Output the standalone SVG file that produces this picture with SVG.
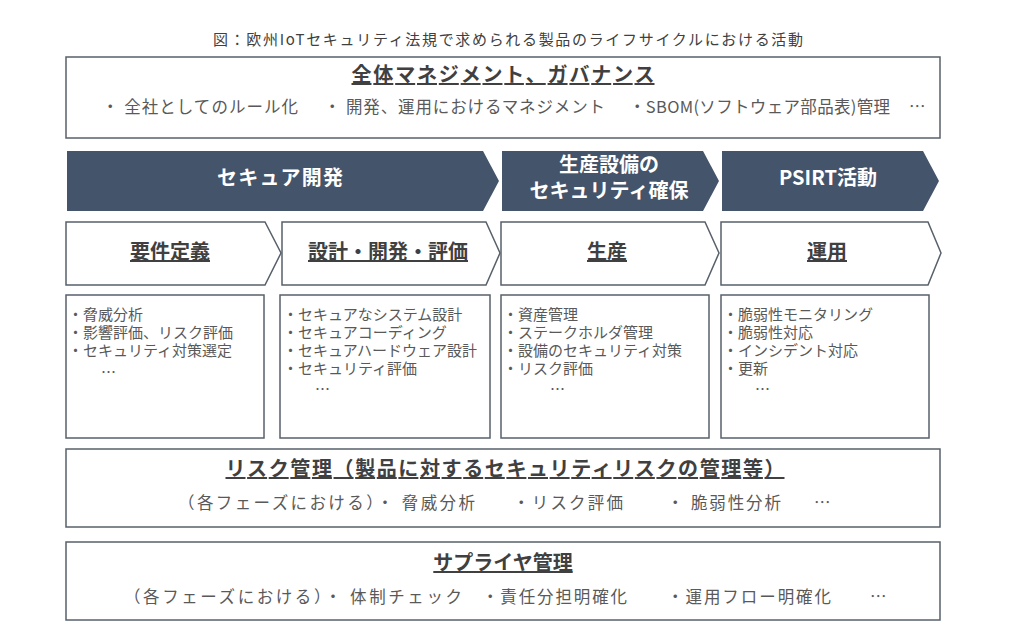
<svg xmlns="http://www.w3.org/2000/svg" width="1024" height="644" viewBox="0 0 1024 644">
<style>
text{font-family:"Noto Sans CJK JP","Noto Sans",sans-serif;}
.cap{font-size:15px;fill:#404040;text-anchor:middle;}
.box{fill:#ffffff;stroke:#58606a;stroke-width:1.5;}
.dark{fill:#44546a;}
.hd{font-size:20px;font-weight:bold;fill:#404040;text-anchor:middle;text-decoration:underline;}
.wt{font-size:20px;font-weight:bold;fill:#ffffff;text-anchor:middle;}
.sub{font-size:16.5px;fill:#595959;}
.li{font-size:15px;fill:#595959;}
</style>
<rect width="1024" height="644" fill="#ffffff"/>
<text class="cap" x="508" y="45" textLength="590" lengthAdjust="spacing">図：欧州IoTセキュリティ法規で求められる製品のライフサイクルにおける活動</text>

<g id="governance">
<rect class="box" x="66" y="57" width="874" height="81"/>
<text class="hd" x="503" y="82" textLength="303" lengthAdjust="spacing">全体マネジメント、ガバナンス</text>
<text class="sub" x="102" y="113" textLength="196" lengthAdjust="spacing">・ 全社としてのルール化</text>
<text class="sub" x="324" y="113" textLength="281" lengthAdjust="spacing">・ 開発、運用におけるマネジメント</text>
<text class="sub" x="629" y="113" textLength="261" lengthAdjust="spacing">・SBOM(ソフトウェア部品表)管理</text>
<text class="sub" x="909" y="113">…</text>
</g>

<g id="phase-secure-dev">
<polygon class="dark" points="67,151 483,151 499,181 483,211 67,211"/>
<text class="wt" x="280" y="185" textLength="126" lengthAdjust="spacing">セキュア開発</text>
</g>
<g id="phase-production-security">
<polygon class="dark" points="502,151 703,151 719,181 703,211 502,211"/>
<text class="wt" x="609" y="172">生産設備の</text>
<text class="wt" x="609" y="198">セキュリティ確保</text>
</g>
<g id="phase-psirt">
<polygon class="dark" points="722,151 923,151 939,181 923,211 722,211"/>
<text class="wt" x="828" y="185">PSIRT活動</text>
</g>

<g id="step-requirements">
<polygon class="box" points="66,222 265,222 281,253 265,285 66,285"/>
<text class="hd" x="170" y="259">要件定義</text>
</g>
<g id="step-design">
<polygon class="box" points="282,222 486,222 500,253 486,285 282,285"/>
<text class="hd" x="388" y="259">設計・開発・評価</text>
</g>
<g id="step-production">
<polygon class="box" points="501,222 705,222 719,253 705,285 501,285"/>
<text class="hd" x="607" y="259">生産</text>
</g>
<g id="step-operation">
<polygon class="box" points="721,222 928,222 941,253 928,285 721,285"/>
<text class="hd" x="827" y="259">運用</text>
</g>

<g id="list-requirements">
<rect class="box" x="66" y="295" width="198" height="143"/>
<text class="li" x="68" y="320">・脅威分析</text>
<text class="li" x="68" y="338">・影響評価、リスク評価</text>
<text class="li" x="68" y="356">・セキュリティ対策選定</text>
<text class="li" x="101" y="378">…</text>
</g>
<g id="list-design">
<rect class="box" x="280" y="295" width="210" height="143"/>
<text class="li" x="283" y="320">・セキュアなシステム設計</text>
<text class="li" x="283" y="338">・セキュアコーディング</text>
<text class="li" x="283" y="356">・セキュアハードウェア設計</text>
<text class="li" x="283" y="374">・セキュリティ評価</text>
<text class="li" x="315" y="395">…</text>
</g>
<g id="list-production">
<rect class="box" x="501" y="295" width="208" height="143"/>
<text class="li" x="503" y="320">・資産管理</text>
<text class="li" x="503" y="338">・ステークホルダ管理</text>
<text class="li" x="503" y="356">・設備のセキュリティ対策</text>
<text class="li" x="503" y="374">・リスク評価</text>
<text class="li" x="550" y="395">…</text>
</g>
<g id="list-operation">
<rect class="box" x="721" y="295" width="208" height="143"/>
<text class="li" x="723" y="320">・脆弱性モニタリング</text>
<text class="li" x="723" y="338">・脆弱性対応</text>
<text class="li" x="723" y="356">・インシデント対応</text>
<text class="li" x="723" y="374">・更新</text>
<text class="li" x="755" y="395">…</text>
</g>

<g id="risk-management">
<rect class="box" x="66" y="449" width="874" height="78"/>
<text class="hd" x="505" y="476" textLength="559" lengthAdjust="spacing">リスク管理（製品に対するセキュリティリスクの管理等）</text>
<text class="sub" x="178" y="509" textLength="297" lengthAdjust="spacing">（各フェーズにおける）・ 脅威分析</text>
<text class="sub" x="513" y="509" textLength="110" lengthAdjust="spacing">・リスク評価</text>
<text class="sub" x="667" y="509" textLength="114" lengthAdjust="spacing">・ 脆弱性分析</text>
<text class="sub" x="814" y="509">…</text>
</g>

<g id="supplier-management">
<rect class="box" x="66" y="542" width="874" height="78"/>
<text class="hd" x="503" y="570">サプライヤ管理</text>
<text class="sub" x="124" y="603" textLength="338" lengthAdjust="spacing">（各フェーズにおける）・ 体制チェック</text>
<text class="sub" x="482" y="603" textLength="145" lengthAdjust="spacing">・責任分担明確化</text>
<text class="sub" x="667" y="603" textLength="164" lengthAdjust="spacing">・運用フロー明確化</text>
<text class="sub" x="870" y="603">…</text>
</g>

<g id="connectors"></g>
</svg>
